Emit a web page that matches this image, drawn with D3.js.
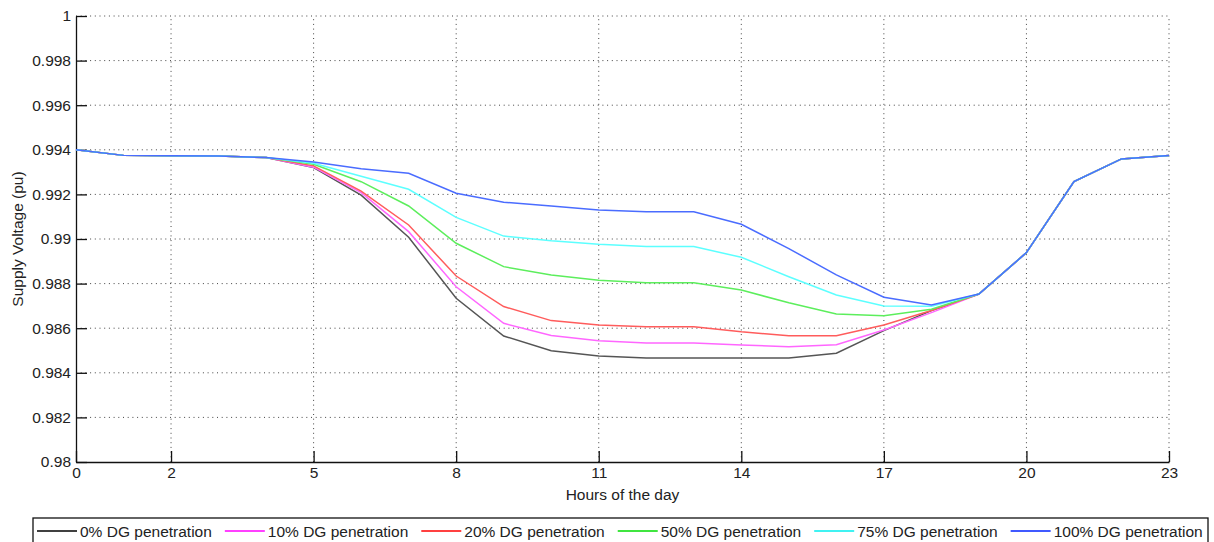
<!DOCTYPE html>
<html>
<head>
<meta charset="utf-8">
<script src="https://cdn.jsdelivr.net/npm/d3@7"></script>
<style>
  body { margin: 0; background: #fff; }
  svg text { font-family: "Liberation Sans", Arial, sans-serif; fill: #222; }
</style>
</head>
<body>
<svg id="chart" width="1214" height="542"></svg>
<script>
// hours of the day
const hours = d3.range(0, 24);
const xTicks = [0, 2, 5, 8, 11, 14, 17, 20, 23];
const yTicks = [0.98, 0.982, 0.984, 0.986, 0.988, 0.99, 0.992, 0.994, 0.996, 0.998, 1];

const dg0   = [0.994, 0.99375, 0.99373, 0.99372, 0.99365, 0.9932, 0.99197, 0.99008, 0.98734, 0.98565, 0.98499, 0.98475,
               0.98466, 0.98466, 0.98466, 0.98466, 0.98488, 0.98589, 0.98679, 0.98753, 0.98939, 0.99257, 0.99359, 0.99374];
const dg10  = [0.994, 0.99375, 0.99373, 0.99372, 0.99365, 0.99322, 0.99208, 0.99033, 0.98786, 0.98622, 0.98567, 0.98544,
               0.98534, 0.98534, 0.98525, 0.98517, 0.98526, 0.98592, 0.9867, 0.98753, 0.98939, 0.99257, 0.99359, 0.99374];
const dg20  = [0.994, 0.99375, 0.99373, 0.99372, 0.99365, 0.99328, 0.99215, 0.99063, 0.98834, 0.98697, 0.98634, 0.98614,
               0.98607, 0.98607, 0.98584, 0.98566, 0.98566, 0.98614, 0.98679, 0.98753, 0.98939, 0.99257, 0.99359, 0.99374];
const dg50  = [0.994, 0.99375, 0.99373, 0.99372, 0.99365, 0.99335, 0.99257, 0.99148, 0.98981, 0.98876, 0.98839, 0.98815,
               0.98804, 0.98804, 0.98771, 0.98714, 0.98664, 0.98656, 0.98685, 0.98753, 0.98939, 0.99257, 0.99359, 0.99374];
const dg75  = [0.994, 0.99375, 0.99373, 0.99372, 0.99365, 0.9934, 0.99281, 0.99223, 0.99097, 0.99013, 0.98992, 0.98976,
               0.98966, 0.98966, 0.98918, 0.98831, 0.98749, 0.987, 0.98698, 0.98753, 0.98939, 0.99257, 0.99359, 0.99374];
const dg100 = [0.994, 0.99375, 0.99373, 0.99372, 0.99365, 0.99345, 0.99315, 0.99295, 0.99205, 0.99165, 0.99148, 0.9913,
               0.99122, 0.99122, 0.99066, 0.98957, 0.98839, 0.98739, 0.98704, 0.98753, 0.98939, 0.99257, 0.99359, 0.99374];

const seriesNames = ["0% DG penetration", "10% DG penetration", "20% DG penetration",
                     "50% DG penetration", "75% DG penetration", "100% DG penetration"];
const seriesValues = [dg0, dg10, dg20, dg50, dg75, dg100];
const lineColors = ["#555555", "#ff66ff", "#ff5c5c", "#5cee5c", "#5cffff", "#4a6cff"];
const legendColors = ["#000000", "#ff00ff", "#ff0000", "#00dd00", "#00eeee", "#0022ff"];

const svg = d3.select("#chart");
const margin = {left: 76, right: 45, top: 16, bottom: 80};
const width = 1214, height = 542;
const fontSize = 15.5;

const x = d3.scaleLinear().domain([0, 23]).range([margin.left, width - margin.right]);
const y = d3.scaleLinear().domain([0.98, 1]).range([height - margin.bottom, margin.top]);

// dotted grid
const grid = svg.append("g");
grid.selectAll("line.gx")
    .data(xTicks.slice(1))
    .join("line")
    .attr("x1", d => x(d)).attr("x2", d => x(d))
    .attr("y1", y(0.98)).attr("y2", y(1))
    .attr("stroke", "#444").attr("stroke-width", 1)
    .attr("stroke-dasharray", "1,3.7");
grid.selectAll("line.gy")
    .data(yTicks.slice(1))
    .join("line")
    .attr("x1", x(0)).attr("x2", x(23))
    .attr("y1", d => y(d)).attr("y2", d => y(d))
    .attr("stroke", "#444").attr("stroke-width", 1)
    .attr("stroke-dasharray", "1,3.7");

// axes, ticks inward
const yFmt = d => d === 1 ? "1" : (d === 0.99 ? "0.99" : (d === 0.98 ? "0.98" : d3.format(".3f")(d)));
const xAxis = svg.append("g")
    .attr("transform", `translate(0,${y(0.98)})`)
    .call(d3.axisBottom(x).tickValues(xTicks).tickFormat(d3.format("d")).tickSizeInner(-11).tickSizeOuter(0).tickPadding(5));
const yAxis = svg.append("g")
    .attr("transform", `translate(${x(0)},0)`)
    .call(d3.axisLeft(y).tickValues(yTicks).tickFormat(yFmt).tickSizeInner(-11).tickSizeOuter(0).tickPadding(5));

[xAxis, yAxis].forEach(a => {
    a.select(".domain").attr("stroke", "#111").attr("stroke-width", 1.3);
    a.selectAll(".tick line").attr("stroke", "#111").attr("stroke-width", 1.3);
    a.selectAll(".tick text").attr("font-size", fontSize).attr("fill", "#222")
        .attr("font-family", "'Liberation Sans', Arial, sans-serif");
});

// lines
const line = d3.line()
    .x((d, i) => x(hours[i]))
    .y(d => y(d));

svg.append("g").selectAll("path")
    .data(seriesValues)
    .join("path")
    .attr("d", line)
    .attr("fill", "none")
    .attr("stroke", (d, i) => lineColors[i])
    .attr("stroke-width", 1.5);

// axis titles
svg.append("text")
    .attr("x", (x(0) + x(23)) / 2).attr("y", 500)
    .attr("text-anchor", "middle").attr("font-size", fontSize)
    .text("Hours of the day");
svg.append("text")
    .attr("transform", `translate(23,${(y(0.98) + y(1)) / 2}) rotate(-90)`)
    .attr("text-anchor", "middle").attr("font-size", fontSize)
    .text("Supply Voltage (pu)");

// legend
const legend = svg.append("g");
let lx = 37;
const ly = 531;
seriesNames.forEach((name, i) => {
    legend.append("line")
        .attr("x1", lx).attr("x2", lx + 40)
        .attr("y1", ly).attr("y2", ly)
        .attr("stroke", legendColors[i]).attr("stroke-width", 1.3);
    const t = legend.append("text")
        .attr("x", lx + 43).attr("y", ly + 5.5)
        .attr("font-size", fontSize)
        .text(name);
    lx += 43 + t.node().getComputedTextLength() + 13;
});
legend.insert("rect", ":first-child")
    .attr("x", 33).attr("y", 518)
    .attr("width", 1208 - 33).attr("height", 40)
    .attr("fill", "#fff").attr("stroke", "#111").attr("stroke-width", 1.3);
</script>
</body>
</html>
